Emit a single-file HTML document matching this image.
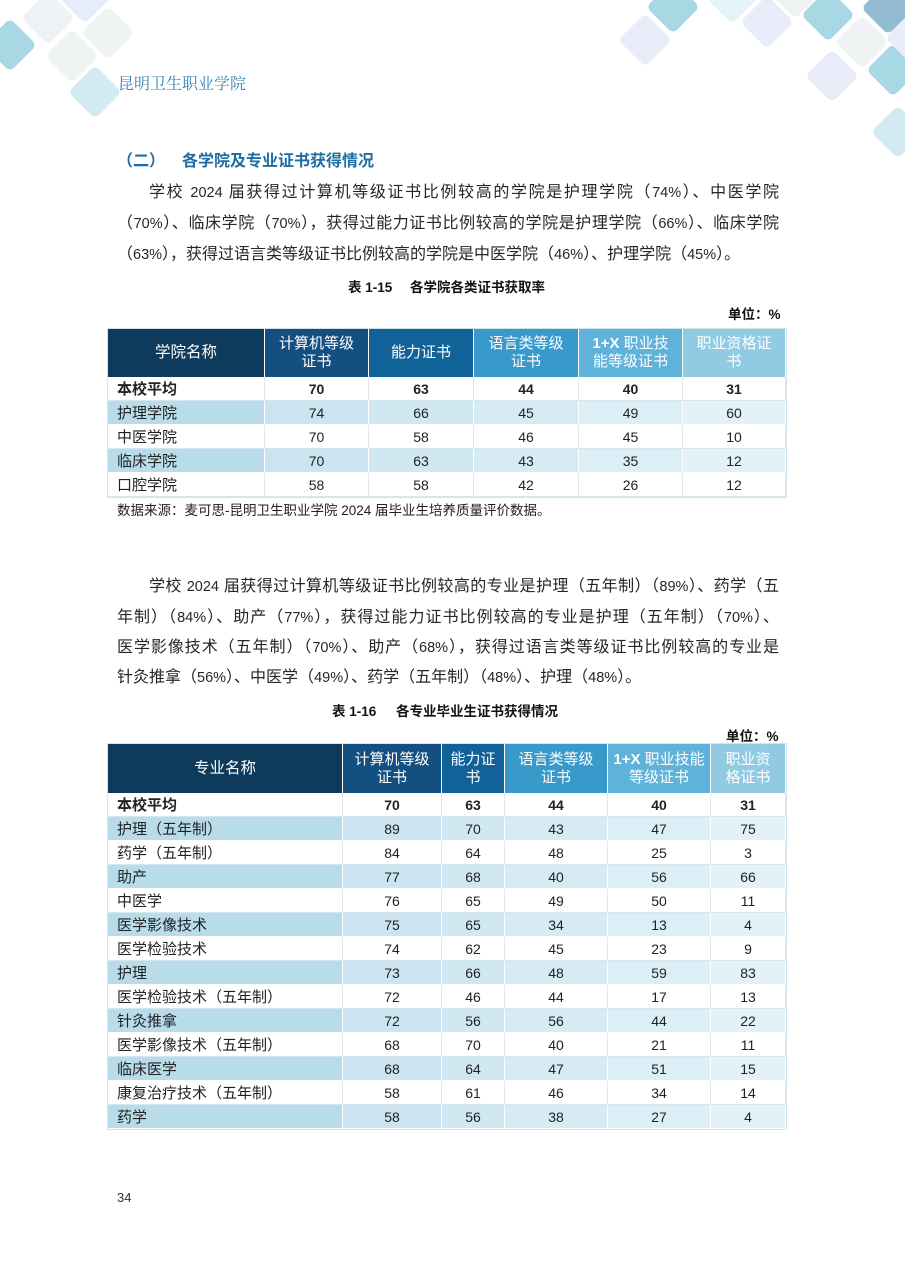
<!DOCTYPE html>
<html><head><meta charset="utf-8">
<style>
html,body{margin:0;padding:0;background:#fff;}
body{width:905px;height:1279px;position:relative;overflow:hidden;font-family:"Liberation Sans","Noto Sans CJK SC",sans-serif;color:#222;}
.a{position:absolute;white-space:nowrap;}
.p{position:absolute;font-size:16px;line-height:20px;height:20px;white-space:nowrap;text-align:justify;text-align-last:justify;color:#262626;}
.p.l{text-align:left;text-align-last:left;}
.n{font-size:14.5px;}
.cap{font-size:13.5px;font-weight:bold;color:#111;}
.tbl{position:absolute;display:grid;outline:1px solid #d3e3eb;}
.tbl>div{box-sizing:border-box;display:flex;align-items:center;justify-content:center;font-size:14px;color:#222;border-right:1px solid #dce9ef;border-bottom:1px solid #d6e7ef;white-space:nowrap;}
.tbl>div.f{justify-content:flex-start;padding-left:9px;font-size:15px;}
.tbl>div.b{font-weight:bold;}
.tbl>div.h{color:#fff;font-size:15px;line-height:18px;text-align:center;border-right:1px solid #fff;border-bottom:none;}
.h0{background:#0e3b5c;font-size:15.5px!important;}
.h1{background:#134f80;}
.h2{background:#12629a;}
.h3{background:#3899cb;}
.h4{background:#5fb2d9;}
.h5{background:#90cbe3;}
.tbl>div.s{border-right:1px solid #fff;border-bottom:1px solid #fff;}
.s0{background:#b8dcea;}
.s1{background:#cbe5f0;}
.s2{background:#d0e8f2;}
.s3{background:#d6ebf4;}
.s4{background:#ddeff6;}
.s5{background:#e3f2f8;}
</style></head><body>

<svg class="a" style="left:0;top:0" width="905" height="170" viewBox="0 0 905 170">
<g>
<rect x="-9" y="26" width="38" height="38" rx="6" fill="#a9d8e5" transform="rotate(45 10 45)"/>
<rect x="29" y="-1" width="38" height="38" rx="6" fill="#eef2f4" transform="rotate(45 48 18)"/>
<rect x="66" y="-22" width="38" height="38" rx="6" fill="#e6ecf8" transform="rotate(45 85 -3)"/>
<rect x="89" y="14" width="38" height="38" rx="6" fill="#eff3f4" transform="rotate(45 108 33)"/>
<rect x="53" y="37" width="38" height="38" rx="6" fill="#eff3f4" transform="rotate(45 72 56)"/>
<rect x="76" y="73" width="38" height="38" rx="6" fill="#d3eaf2" transform="rotate(45 95 92)"/>

<rect x="654" y="-12" width="38" height="38" rx="6" fill="#a9d8e5" transform="rotate(45 673 7)"/>
<rect x="626" y="21" width="38" height="38" rx="6" fill="#e8edf9" transform="rotate(45 645 40)"/>
<rect x="713" y="-22" width="38" height="38" rx="6" fill="#e5f3f8" transform="rotate(45 732 -3)"/>
<rect x="748" y="3" width="38" height="38" rx="6" fill="#e8edf9" transform="rotate(45 767 22)"/>
<rect x="776" y="-27" width="38" height="38" rx="6" fill="#eff2f3" transform="rotate(45 795 -8)"/>
<rect x="809" y="-4" width="38" height="38" rx="6" fill="#a9d8e5" transform="rotate(45 828 15)"/>
<rect x="869" y="-11" width="38" height="38" rx="6" fill="#93bcd3" transform="rotate(45 888 8)"/>
<rect x="843" y="23" width="38" height="38" rx="6" fill="#eff3f4" transform="rotate(45 862 42)"/>
<rect x="813" y="57" width="38" height="38" rx="6" fill="#e8edf9" transform="rotate(45 832 76)"/>
<rect x="874" y="51" width="38" height="38" rx="6" fill="#a9d8e5" transform="rotate(45 893 70)"/>
<rect x="893" y="19" width="38" height="38" rx="6" fill="#e8edf9" transform="rotate(45 912 38)"/>
<rect x="879" y="113" width="38" height="38" rx="6" fill="#d3eaf2" transform="rotate(45 898 132)"/>
</g>
</svg>

<div class="a" style="left:118px;top:75px;font-size:16px;line-height:20px;color:#3a84b0;font-family:'Liberation Serif','Noto Serif CJK SC',serif;">昆明卫生职业学院</div>

<div class="a" style="left:117px;top:152px;font-size:16px;line-height:20px;color:#1c6ea4;font-weight:bold;">（二）</div>
<div class="a" style="left:182px;top:152px;font-size:16px;line-height:20px;color:#1c6ea4;font-weight:bold;">各学院及专业证书获得情况</div>

<div class="p" style="left:149px;top:183px;width:630px;">学校 <span class="n">2024</span> 届获得过计算机等级证书比例较高的学院是护理学院（<span class="n">74%</span>）、中医学院</div>
<div class="p" style="left:117px;top:214px;width:662px;">（<span class="n">70%</span>）、临床学院（<span class="n">70%</span>），获得过能力证书比例较高的学院是护理学院（<span class="n">66%</span>）、临床学院</div>
<div class="p l" style="left:117px;top:245px;">（<span class="n">63%</span>），获得过语言类等级证书比例较高的学院是中医学院（<span class="n">46%</span>）、护理学院（<span class="n">45%</span>）。</div>

<div class="a cap" style="left:348px;top:276px;">表 1-15</div>
<div class="a cap" style="left:410px;top:276px;">各学院各类证书获取率</div>
<div class="a cap" style="left:728px;top:303px;">单位：%</div>

<div class="tbl" style="left:108px;top:329px;width:678px;grid-template-columns:157px 104px 105px 105px 104px 103px;grid-template-rows:48px repeat(5,24px);">
<div class="h h0">学院名称</div><div class="h h1">计算机等级<br>证书</div><div class="h h2">能力证书</div><div class="h h3">语言类等级<br>证书</div><div class="h h4"><span><b>1+X</b> 职业技<br>能等级证书</span></div><div class="h h5">职业资格证<br>书</div>
<div class="f b">本校平均</div><div class="b">70</div><div class="b">63</div><div class="b">44</div><div class="b">40</div><div class="b">31</div>
<div class="f s s0">护理学院</div><div class="s s1">74</div><div class="s s2">66</div><div class="s s3">45</div><div class="s s4">49</div><div class="s s5">60</div>
<div class="f">中医学院</div><div>70</div><div>58</div><div>46</div><div>45</div><div>10</div>
<div class="f s s0">临床学院</div><div class="s s1">70</div><div class="s s2">63</div><div class="s s3">43</div><div class="s s4">35</div><div class="s s5">12</div>
<div class="f">口腔学院</div><div>58</div><div>58</div><div>42</div><div>26</div><div>12</div>
</div>

<div class="a" style="left:117px;top:502px;font-size:13.5px;line-height:18px;color:#222;">数据来源：麦可思-昆明卫生职业学院 2024 届毕业生培养质量评价数据。</div>

<div class="p" style="left:149px;top:577px;width:630px;">学校 <span class="n">2024</span> 届获得过计算机等级证书比例较高的专业是护理（五年制）（<span class="n">89%</span>）、药学（五</div>
<div class="p" style="left:117px;top:608px;width:662px;">年制）（<span class="n">84%</span>）、助产（<span class="n">77%</span>），获得过能力证书比例较高的专业是护理（五年制）（<span class="n">70%</span>）、</div>
<div class="p" style="left:117px;top:638px;width:662px;">医学影像技术（五年制）（<span class="n">70%</span>）、助产（<span class="n">68%</span>），获得过语言类等级证书比例较高的专业是</div>
<div class="p l" style="left:117px;top:668px;">针灸推拿（<span class="n">56%</span>）、中医学（<span class="n">49%</span>）、药学（五年制）（<span class="n">48%</span>）、护理（<span class="n">48%</span>）。</div>

<div class="a cap" style="left:332px;top:700px;">表 1-16</div>
<div class="a cap" style="left:396px;top:700px;">各专业毕业生证书获得情况</div>
<div class="a cap" style="left:726px;top:725px;">单位：%</div>

<div class="tbl" style="left:108px;top:744px;width:678px;grid-template-columns:235px 99px 63px 103px 103px 75px;grid-template-rows:49px repeat(14,24px);">
<div class="h h0">专业名称</div><div class="h h1">计算机等级<br>证书</div><div class="h h2">能力证<br>书</div><div class="h h3">语言类等级<br>证书</div><div class="h h4"><span><b>1+X</b> 职业技能<br>等级证书</span></div><div class="h h5">职业资<br>格证书</div>
<div class="f b">本校平均</div><div class="b">70</div><div class="b">63</div><div class="b">44</div><div class="b">40</div><div class="b">31</div>
<div class="f s s0">护理（五年制）</div><div class="s s1">89</div><div class="s s2">70</div><div class="s s3">43</div><div class="s s4">47</div><div class="s s5">75</div>
<div class="f">药学（五年制）</div><div>84</div><div>64</div><div>48</div><div>25</div><div>3</div>
<div class="f s s0">助产</div><div class="s s1">77</div><div class="s s2">68</div><div class="s s3">40</div><div class="s s4">56</div><div class="s s5">66</div>
<div class="f">中医学</div><div>76</div><div>65</div><div>49</div><div>50</div><div>11</div>
<div class="f s s0">医学影像技术</div><div class="s s1">75</div><div class="s s2">65</div><div class="s s3">34</div><div class="s s4">13</div><div class="s s5">4</div>
<div class="f">医学检验技术</div><div>74</div><div>62</div><div>45</div><div>23</div><div>9</div>
<div class="f s s0">护理</div><div class="s s1">73</div><div class="s s2">66</div><div class="s s3">48</div><div class="s s4">59</div><div class="s s5">83</div>
<div class="f">医学检验技术（五年制）</div><div>72</div><div>46</div><div>44</div><div>17</div><div>13</div>
<div class="f s s0">针灸推拿</div><div class="s s1">72</div><div class="s s2">56</div><div class="s s3">56</div><div class="s s4">44</div><div class="s s5">22</div>
<div class="f">医学影像技术（五年制）</div><div>68</div><div>70</div><div>40</div><div>21</div><div>11</div>
<div class="f s s0">临床医学</div><div class="s s1">68</div><div class="s s2">64</div><div class="s s3">47</div><div class="s s4">51</div><div class="s s5">15</div>
<div class="f">康复治疗技术（五年制）</div><div>58</div><div>61</div><div>46</div><div>34</div><div>14</div>
<div class="f s s0">药学</div><div class="s s1">58</div><div class="s s2">56</div><div class="s s3">38</div><div class="s s4">27</div><div class="s s5">4</div>
</div>

<div class="a" style="left:117px;top:1190px;font-size:13px;line-height:16px;color:#333;">34</div>

</body></html>
